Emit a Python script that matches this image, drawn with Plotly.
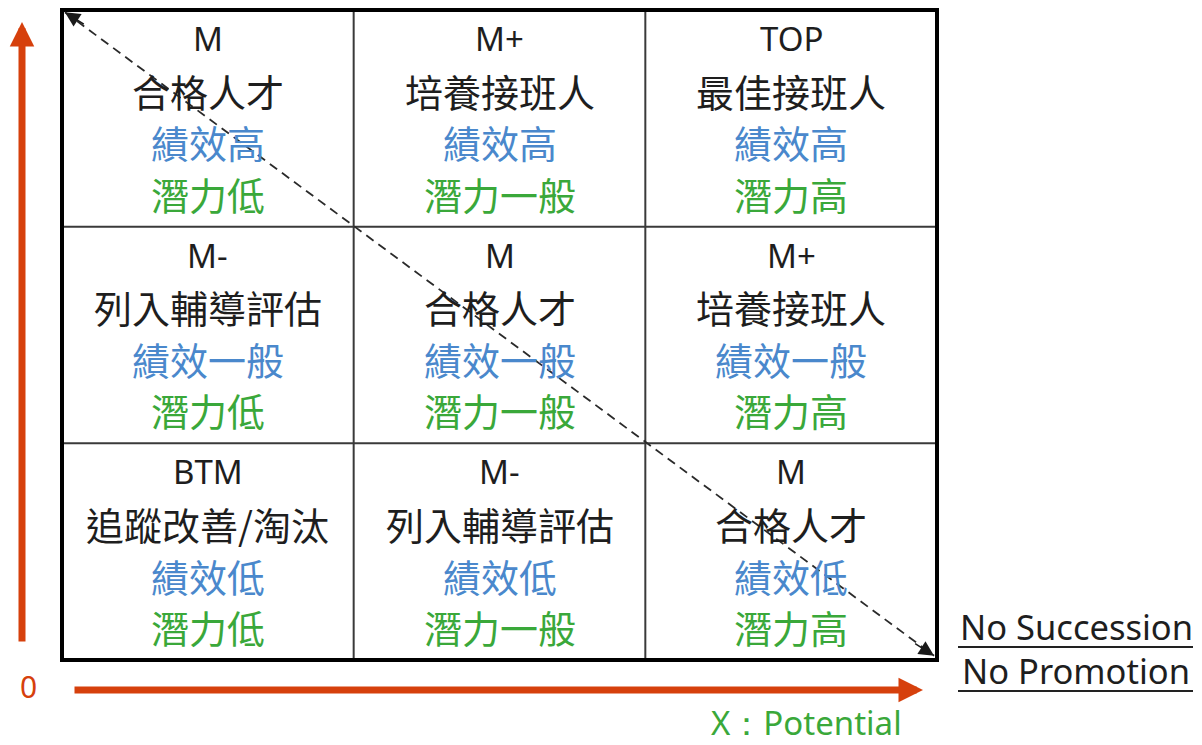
import plotly.graph_objects as go

# ---- data ----
levels = [["M", "M+", "TOP"],
          ["M-", "M", "M+"],
          ["BTM", "M-", "M"]]            # rows top -> bottom
roles = [["合格人才", "培養接班人", "最佳接班人"],
         ["列入輔導評估", "合格人才", "培養接班人"],
         ["追蹤改善/淘汰", "列入輔導評估", "合格人才"]]
performance = ["績效高", "績效一般", "績效低"]   # per row (top -> bottom)
potential = ["潛力低", "潛力一般", "潛力高"]     # per column (left -> right)
axis_zero = "0"
x_title = "X：Potential"
side_labels = ["No Succession", "No Promotion"]

# ---- styling ----
CJK = "Noto Sans CJK TC"
LAT = "Noto Sans, sans-serif"
BLACK = "#1e1e1e"
BLUE = "#4a88cc"
GREEN = "#3aa83a"
RED = "#d6400c"

n = 3
OFF = 8  # page body margin
px_x = 875 / 3.0
px_y = 650 / 3.0
x0 = -(62 - OFF) / px_x
x1 = x0 + 1194 / px_x
y1 = 3 + (10 - OFF) / px_y
y0 = y1 - 737 / px_y


def X(p):
    return x0 + (p - OFF) / px_x


def Y(p):
    return y1 - (p - OFF) / px_y


fig = go.Figure()
fig.add_trace(go.Scatter(x=[0, 3], y=[0, 3], mode="markers",
                         marker=dict(opacity=0), hoverinfo="skip", showlegend=False))

# grid lines
for k in range(1, n):
    fig.add_shape(type="line", x0=k, x1=k, y0=0, y1=n, line=dict(color="#3a3a3a", width=2))
    fig.add_shape(type="line", x0=0, x1=n, y0=k, y1=k, line=dict(color="#3a3a3a", width=2))
fig.add_shape(type="rect", x0=0, x1=n, y0=0, y1=n, line=dict(color="black", width=4))

# dashed diagonal
fig.add_shape(type="line", x0=0.01, y0=n - 0.01, x1=n - 0.01, y1=0.02,
              line=dict(color="#2a2a2a", width=1.8, dash="9px,6px"))
for (tx, ty, sx, sy) in [(0.01, n - 0.01, 0.08, n - 0.07), (n - 0.01, 0.02, n - 0.08, 0.08)]:
    fig.add_annotation(x=tx, y=ty, ax=sx, ay=sy, axref="x", ayref="y", text="",
                       showarrow=True, arrowhead=2, arrowsize=2, arrowwidth=1.5,
                       arrowcolor="#1a1a1a")

# cell texts
offsets = [0.132, 0.370, 0.609, 0.845]
for r in range(n):
    top = n - r
    for c in range(n):
        cx = c + 0.5
        lines = [(levels[r][c], BLACK, LAT, 33),
                 (roles[r][c], BLACK, CJK, 38),
                 (performance[r], BLUE, CJK, 38),
                 (potential[c], GREEN, CJK, 38)]
        for (txt, col, fam, size), off in zip(lines, offsets):
            fig.add_annotation(x=cx, y=top - off, text=txt, showarrow=False,
                               font=dict(family=fam, size=size, color=col),
                               xanchor="center", yanchor="middle")

# red axes arrows
fig.add_annotation(x=X(22), y=Y(22), ax=X(22), ay=Y(643),
                   axref="x", ayref="y", text="", showarrow=True,
                   arrowhead=2, arrowsize=0.7, arrowwidth=7, arrowcolor=RED)
fig.add_annotation(x=X(923), y=Y(690), ax=X(73), ay=Y(690),
                   axref="x", ayref="y", text="", showarrow=True,
                   arrowhead=2, arrowsize=0.7, arrowwidth=7, arrowcolor=RED)
fig.add_annotation(x=X(28), y=Y(686), text=axis_zero, showarrow=False,
                   font=dict(family=LAT, size=30, color=RED))
fig.add_annotation(x=X(806), y=Y(722), text=x_title, showarrow=False,
                   font=dict(family=LAT, size=33, color=GREEN))

# side labels with underlines
for txt, cy, uy in zip(side_labels, [626, 670], [647, 691]):
    fig.add_annotation(x=X(1076), y=Y(cy), text=txt, showarrow=False,
                       font=dict(family=LAT, size=34.5, color=BLACK))
    fig.add_shape(type="line", x0=X(958), x1=X(1193),
                  y0=Y(uy), y1=Y(uy), line=dict(color="#222222", width=2))

fig.update_xaxes(range=[x0, x1], visible=False, fixedrange=True)
fig.update_yaxes(range=[y0, y1], visible=False, fixedrange=True)
fig.update_layout(width=1194, height=737, margin=dict(l=0, r=0, t=0, b=0),
                  plot_bgcolor="white", paper_bgcolor="white", showlegend=False)
fig.write_html("out.html")
